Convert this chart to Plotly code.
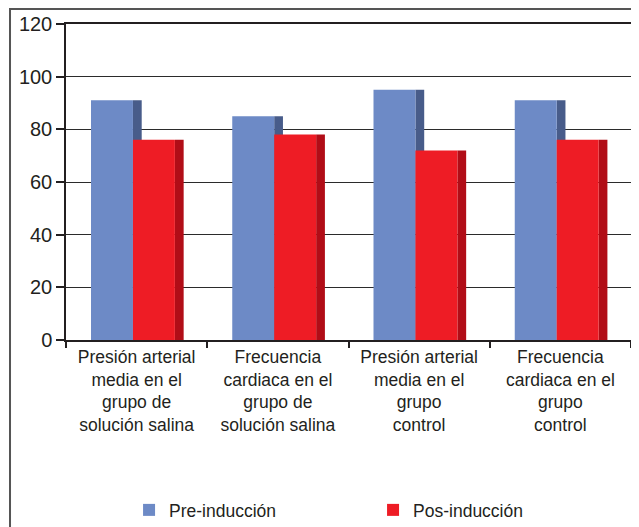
import plotly.graph_objects as go

categories = [
    "Presión arterial<br>media en el<br>grupo de<br>solución salina",
    "Frecuencia<br>cardiaca en el<br>grupo de<br>solución salina",
    "Presión arterial<br>media en el<br>grupo<br>control",
    "Frecuencia<br>cardiaca en el<br>grupo<br>control",
]
pre_induccion = [91, 85, 95, 91]
pos_induccion = [76, 78, 72, 76]
y_ticks = [0, 20, 40, 60, 80, 100, 120]

BLUE = "#6d8ac6"
BLUE_SIDE = "#485c8a"
RED = "#ee1c25"
RED_SIDE = "#b10d17"
FONT = "Liberation Sans, Arial, sans-serif"

front_w = 0.297
side_w = 0.062
blue_off = -0.323
red_off = blue_off + front_w

fig = go.Figure()
# side (depth) strips
fig.add_trace(go.Bar(x=categories, y=pre_induccion, width=side_w, offset=blue_off + front_w,
                     marker=dict(color=BLUE_SIDE, line=dict(width=0)), showlegend=False, hoverinfo="skip"))
fig.add_trace(go.Bar(x=categories, y=pos_induccion, width=side_w, offset=red_off + front_w,
                     marker=dict(color=RED_SIDE, line=dict(width=0)), showlegend=False, hoverinfo="skip"))
# front faces
fig.add_trace(go.Bar(x=categories, y=pre_induccion, width=front_w, offset=blue_off, name="Pre-inducción",
                     marker=dict(color=BLUE, line=dict(width=0))))
fig.add_trace(go.Bar(x=categories, y=pos_induccion, width=front_w, offset=red_off, name="Pos-inducción",
                     marker=dict(color=RED, line=dict(width=0))))

fig.update_layout(
    width=631, height=519,
    margin=dict(l=58, r=8, t=16, b=187, autoexpand=False),
    paper_bgcolor="white", plot_bgcolor="white",
    barmode="overlay",
    font=dict(family=FONT, size=17.5, color="#231f20"),
    showlegend=True,
    legend=dict(orientation="h", x=0.1116, xanchor="left", y=-0.538, yanchor="middle",
                entrywidth=199, entrywidthmode="pixels", traceorder="normal",
                font=dict(size=17.5, color="#231f20"), bgcolor="rgba(0,0,0,0)"),
    xaxis=dict(type="category", tickson="boundaries", ticks="outside", ticklen=6,
               tickcolor="#231f20", tickwidth=1.5, automargin=False,
               showline=True, linecolor="#231f20", linewidth=1.5, mirror=True,
               showgrid=False, tickfont=dict(size=17.5), fixedrange=True),
    yaxis=dict(range=[0, 120], tickvals=y_ticks, ticks="outside", ticklen=8,
               tickcolor="#231f20", tickwidth=1.5, automargin=False,
               showline=True, linecolor="#231f20", linewidth=1.5, mirror=True,
               showgrid=True, gridcolor="#2b2b2b", gridwidth=1.3, zeroline=False,
               tickfont=dict(size=20), ticklabelstandoff=0, fixedrange=True),
    shapes=[dict(type="rect", xref="paper", yref="paper",
                 x0=-0.0991, x1=1.2, y0=-0.8, y1=1.0475,
                 line=dict(color="#555555", width=2), fillcolor="rgba(0,0,0,0)", layer="below")],
)

fig.write_html("out.html")
